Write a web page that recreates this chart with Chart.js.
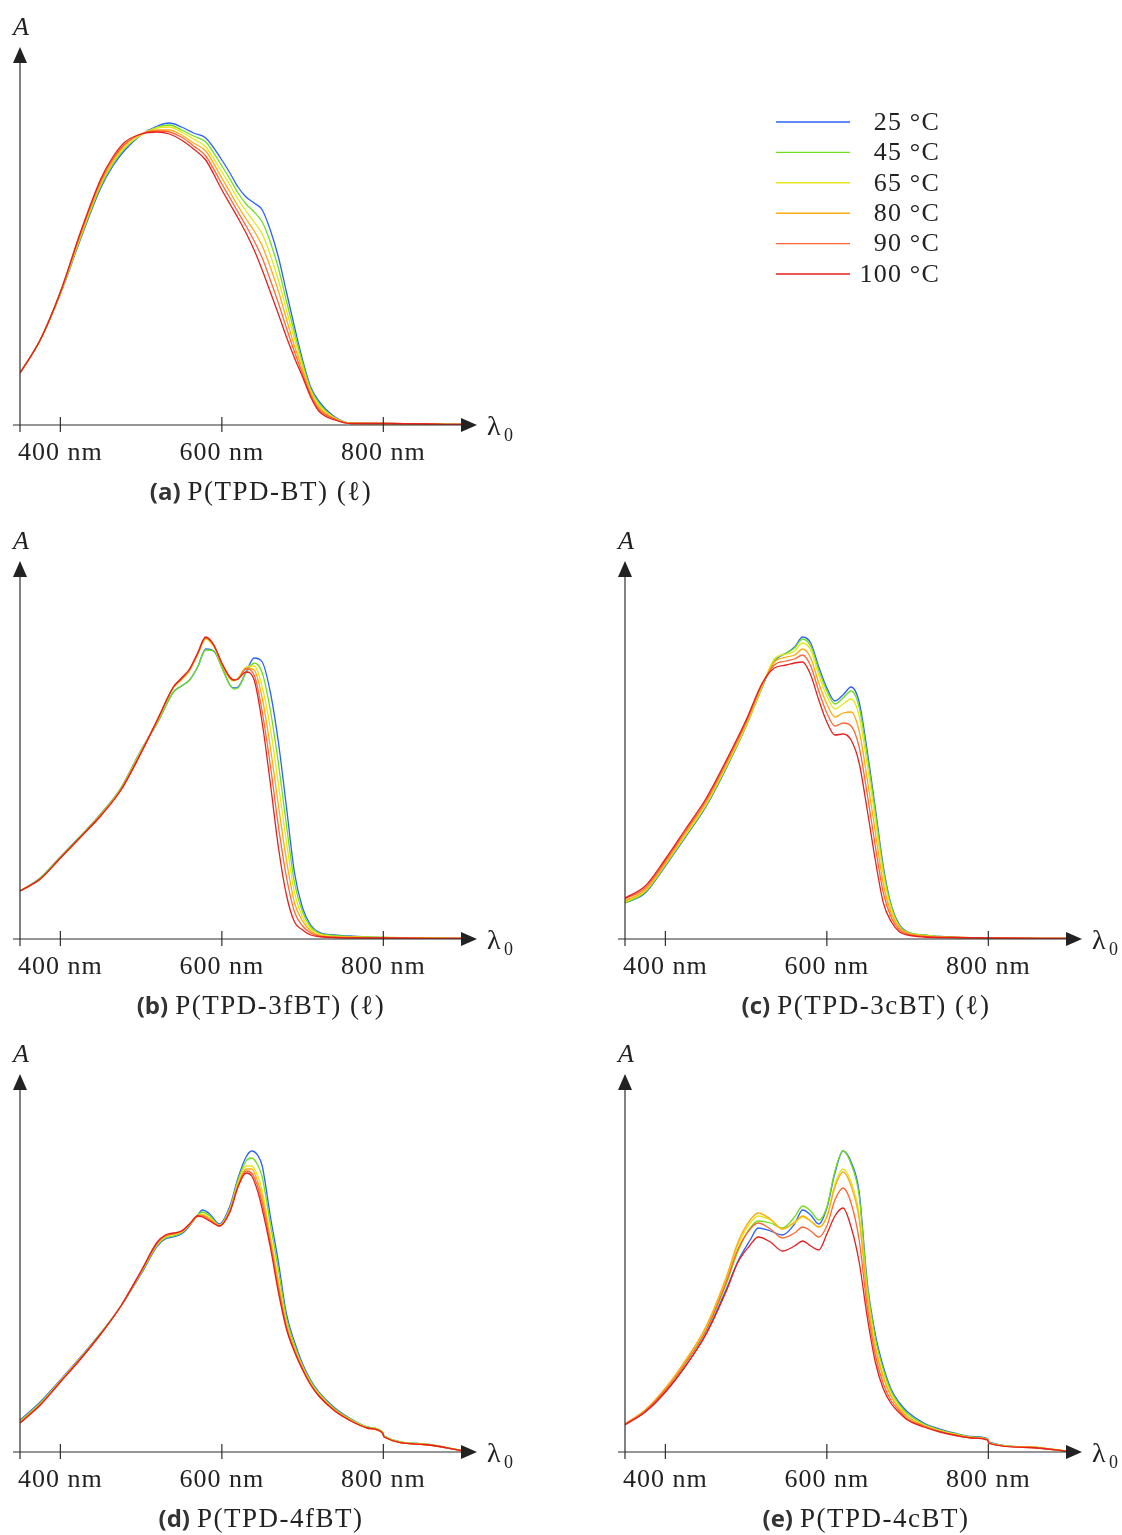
<!DOCTYPE html>
<html>
<head>
<meta charset="utf-8">
<title>Absorption spectra vs temperature</title>
<script src="https://cdn.jsdelivr.net/npm/chart.js@4.4.1/dist/chart.umd.min.js"></script>
<style>
  html, body { margin: 0; padding: 0; background: #fff; overflow: hidden; }
  body { width: 1122px; height: 1535px; position: relative; }
  canvas { position: absolute; }
</style>
</head>
<body>
<canvas id="pa" width="1122" height="510" style="left:0px;top:0px;width:1122px;height:510px"></canvas>
<canvas id="pb" width="520" height="510" style="left:0px;top:514px;width:520px;height:510px"></canvas>
<canvas id="pc" width="517" height="510" style="left:605px;top:514px;width:517px;height:510px"></canvas>
<canvas id="pd" width="520" height="508" style="left:0px;top:1027px;width:520px;height:508px"></canvas>
<canvas id="pe" width="517" height="508" style="left:605px;top:1027px;width:517px;height:508px"></canvas>
<script>
// series labels and colours (same for every panel)
const temps = ["25 °C", "45 °C", "65 °C", "80 °C", "90 °C", "100 °C"];
const colors = ["#2962ff", "#6fe01a", "#e6e619", "#ffaa11", "#ff6633", "#e51f1f"];

// x axis ticks (nm)
const xTicks = [400, 600, 800];

// absorbance in milli-units

// (a) P(TPD-BT) (l)
const nmA = [350,375,400,425,450,465,480,500,520,535,550,565,580,600,610,620,630,640,650,660,670,680,690,700,710,720,740,760,800,900];
const a25 = [52,85,131,186,237,259,275,290,299,302,298,292,287,265,252,238,228,222,215,195,168,133,98,65,38,24,8,2,1.5,0.5];
const a45 = [52,85,131,187,239,261,277,290,298,300,295,289,283,259,246,232,221,213,203,183,157,124,92,62,36,22,7,2,1.5,0.5];
const a65 = [52,85,132,189,241,263,278,290,297,298,293,286,278,253,240,226,214,203,191,170,145,115,86,58,34,20,7,2,1.5,0.5];
const a80 = [52,85,132,190,242,264,280,291,295,295,290,282,274,247,233,219,206,194,179,158,134,106,79,55,32,18,6,1.5,1.5,0.5];
const a90 = [52,85,133,192,244,266,281,291,294,293,288,279,269,241,227,213,199,184,167,145,122,97,73,51,30,16,6,1.5,1.5,0.5];
const a100 = [52,85,133,193,246,268,283,291,293,291,285,276,265,235,221,207,192,175,155,133,111,88,67,48,28,14,5,1.5,1.5,0.5];

// (b) P(TPD-3fBT) (l)
const nmB = [350,375,400,425,450,475,500,520,540,550,560,570,580,590,600,610,615,620,630,640,650,660,670,680,690,700,710,720,740,760,800,900];
const b25 = [48,61,82,103,125,151,189,216,247,253,259,272,290,288,272,254,251,252,267,281,277,247,197,132,66,31,14,7,4,3,1.5,0.5];
const b45 = [48,61,82,103,125,151,189,216,247,253,259,272,289,288,271,254,250,251,266,276,266,229,176,114,56,27,12,6,3.5,2.5,1.5,0.5];
const b65 = [48,60,81,102,124,150,188,218,251,259,268,284,300,292,274,260,258,261,272,273,252,211,155,97,46,22,10,5,2.5,2,1.5,0.5];
const b80 = [48,60,81,102,124,150,187,218,252,260,269,285,301,293,275,261,259,260,271,269,241,192,134,79,36,18,8,4,2,1.5,1,0.5];
const b90 = [48,60,81,102,124,149,187,219,252,260,269,285,301,294,275,261,259,260,270,264,227,174,113,62,27,13,6,3,1.5,1.5,1,0.5];
const b100 = [48,60,81,102,123,149,186,219,252,261,270,286,302,294,276,262,259,260,267,259,216,156,92,44,17,9,4,2.5,1.5,1,1,0.5];

// (c) P(TPD-3cBT) (l)
const nmC = [350,375,400,425,450,475,500,520,535,550,560,570,580,590,600,610,620,630,640,650,660,670,680,690,700,720,740,760,800,900];
const c25 = [36,46,73,102,132,170,213,252,278,286,292,302,296,272,251,238,244,252,237,188,131,72,33,14,7,4,2.5,1.5,1,0.5];
const c45 = [36,47,74,103,133,171,213,252,279,286,291,300,293,269,248,235,241,248,232,183,127,69,32,13,7,4,2.5,1.5,1,0.5];
const c65 = [37,48,75,104,134,172,214,253,280,285,288,296,289,264,243,230,235,240,223,174,119,64,29,12,6,3.5,2,1.5,1,0.5];
const c80 = [38,49,76,106,136,174,216,254,277,282,284,290,281,256,235,222,226,227,208,160,107,55,25,11,6,3,2,1.5,1,0.5];
const c90 = [40,51,78,108,138,176,217,255,274,278,280,284,273,248,226,213,216,213,192,145,93,46,21,9,5,2.5,1.5,1.5,1,0.5];
const c100 = [41,53,80,110,140,178,219,256,271,274,276,277,264,239,217,204,205,199,176,129,79,36,17,7,4,2,1.5,1.5,1,0.5];

// (d) P(TPD-4fBT)
const nmD = [350,375,400,425,450,475,500,520,530,540,550,560,570,576,585,597,610,620,630,637,645,650,660,670,680,690,700,710,720,740,760,780,799,801,850,900];
const d25 = [32,50,72,95,119,146,178,206,213,215,218,226,237,242,238,228,246,274,295,301,296,286,236,190,138,110,88,72,60,44,33,25,20,16,8,1];
const d45 = [31,49,71,94,119,146,179,207,214,216,219,227,237,240,236,227,244,272,291,294,286,275,228,182,134,107,86,71,59,43,32.5,25,20,16,8,1];
const d65 = [30,48,71,94,118,146,180,208,215,217,220,227,236,238,234,227,243,269,286,286,275,261,218,173,129,104,85,69,58,42,32,24.5,19.5,15.5,8,1];
const d80 = [30,48,71,94,118,146,180,209,216,218,220,227,236,237,233,227,242,267,283,283,269,255,213,168,127,103,84,68,57,42,31.5,24,19,15,7.5,1];
const d90 = [29,47,70,93,118,146,181,209,216,218,221,228,236,236,232,226,241,266,281,279,264,249,209,164,125,101,83,68,56.5,41,31,24,19,15,7.5,1];
const d100 = [29,47,70,93,118,146,181,210,217,219,221,228,236,235,231,226,240,265,279,276,259,243,205,160,123,100,82,67,56,41,31,24,19,15,7.5,1];

// (e) P(TPD-4cBT)
const nmE = [350,375,400,425,450,475,490,505,515,530,545,560,570,580,590,600,610,620,630,640,650,660,670,680,690,700,720,740,760,780,799,801,850,900];
const e25 = [28,40,60,86,118,162,191,212,224,221,217,228,242,237,228,244,279,301,290,260,170,118,85,62,49,40,29,23,18.5,15.5,13.5,10,5,0.5];
const e45 = [28,41,62,89,121,167,201,224,231,229,224,235,246,241,232,245,281,301,288,256,167,114,82,60,47,38,28,22,18,15,13,9.5,5,0.5];
const e65 = [28,42,63,91,124,172,207,229,236,232,223,229,235,231,225,236,268,283,270,238,160,108,77,57,45,36,27,21.5,17.5,14.5,12.5,9,5,0.5];
const e80 = [28,42,64,92,125,174,210,232,239,233,223,230,236,231,225,235,265,280,266,233,155,104,74,55,43,35,26.5,21,17,14.5,12.5,9,5,0.5];
const e90 = [28,41,62,89,121,169,203,223,229,223,214,219,225,221,215,226,252,264,249,212,145,97,68,51,41,33,26,20.5,16.5,14,12,8.5,4.5,0.5];
const e100 = [27,40,60,86,117,160,190,207,215,210,201,206,211,206,202,218,236,244,225,190,135,90,63,48,39,32,25,20,16.5,14,12,8.5,4.5,0.5];

const SERIF = '"Liberation Serif", "DejaVu Serif", serif';
const SANS = '"Open Sans", "DejaVu Sans", sans-serif';

// axes with arrows, tick labels, caption and (panel a only) legend
const decoPlugin = {
  id: "deco",
  afterDatasetsDraw(chart, args, opts) {
    const ctx = chart.ctx;
    const xs = chart.scales.x;
    const ys = chart.scales.y;
    const x0 = xs.getPixelForValue(xs.min);
    const y0 = ys.getPixelForValue(0);
    const top = ys.getPixelForValue(ys.max);
    const right = xs.getPixelForValue(xs.max);

    ctx.save();
    ctx.strokeStyle = "#2e2e2e";
    ctx.fillStyle = "#222";
    ctx.lineWidth = 1.2;

    // x axis + arrow
    ctx.beginPath();
    ctx.moveTo(x0 - 7, y0);
    ctx.lineTo(right - 14, y0);
    ctx.stroke();
    ctx.beginPath();
    ctx.moveTo(right, y0);
    ctx.lineTo(right - 16, y0 - 7);
    ctx.lineTo(right - 16, y0 + 7);
    ctx.closePath();
    ctx.fill();

    // y axis + arrow
    ctx.beginPath();
    ctx.moveTo(x0, y0 + 7);
    ctx.lineTo(x0, top + 14);
    ctx.stroke();
    ctx.beginPath();
    ctx.moveTo(x0, top);
    ctx.lineTo(x0 - 7, top + 16);
    ctx.lineTo(x0 + 7, top + 16);
    ctx.closePath();
    ctx.fill();

    // ticks and labels
    ctx.font = "26px " + SERIF;
    ctx.letterSpacing = "1px";
    ctx.textAlign = "center";
    ctx.textBaseline = "alphabetic";
    xTicks.forEach(v => {
      const px = xs.getPixelForValue(v);
      ctx.beginPath();
      ctx.moveTo(px, y0 - 8);
      ctx.lineTo(px, y0 + 7);
      ctx.stroke();
      ctx.fillText(v + " nm", px, y0 + 35);
    });

    // axis names
    ctx.letterSpacing = "0px";
    ctx.font = "italic 26px " + SERIF;
    ctx.fillText("A", x0 + 1, top - 12);
    ctx.textAlign = "left";
    ctx.font = "28px " + SERIF;
    ctx.fillText("λ", right + 10, y0 + 10);
    ctx.font = "18px " + SERIF;
    ctx.fillText("0", right + 27, y0 + 16);

    // caption
    const capY = y0 + 75;
    ctx.font = "bold 24px " + SANS;
    const w1 = ctx.measureText(opts.tag).width;
    ctx.font = "27px " + SERIF;
    ctx.letterSpacing = "1.5px";
    const w2 = ctx.measureText(opts.name).width;
    const gap = 7;
    const cx = opts.capX - (w1 + gap + w2) / 2;
    ctx.letterSpacing = "0px";
    ctx.font = "bold 24px " + SANS;
    ctx.fillStyle = "#333";
    ctx.fillText(opts.tag, cx, capY);
    ctx.font = "27px " + SERIF;
    ctx.letterSpacing = "1.5px";
    ctx.fillStyle = "#222";
    ctx.fillText(opts.name, cx + w1 + gap, capY);

    // legend
    if (opts.legend) {
      ctx.font = "26px " + SERIF;
      ctx.letterSpacing = "1.2px";
      ctx.textAlign = "right";
      ctx.textBaseline = "middle";
      chart.data.datasets.forEach((ds, i) => {
        const ly = 122 + i * 30.4;
        ctx.strokeStyle = ds.borderColor;
        ctx.lineWidth = 1.4;
        ctx.beginPath();
        ctx.moveTo(776, ly);
        ctx.lineTo(850, ly);
        ctx.stroke();
        ctx.fillStyle = "#222";
        ctx.fillText(ds.label, 940, ly + 1);
      });
    }
    ctx.restore();
  }
};

const panels = [
  { id: "pa", nm: nmA, series: [a25, a45, a65, a80, a90, a100], tag: "(a)", name: "P(TPD-BT) (ℓ)", legend: true },
  { id: "pb", nm: nmB, series: [b25, b45, b65, b80, b90, b100], tag: "(b)", name: "P(TPD-3fBT) (ℓ)" },
  { id: "pc", nm: nmC, series: [c25, c45, c65, c80, c90, c100], tag: "(c)", name: "P(TPD-3cBT) (ℓ)" },
  { id: "pd", nm: nmD, series: [d25, d45, d65, d80, d90, d100], tag: "(d)", name: "P(TPD-4fBT)" },
  { id: "pe", nm: nmE, series: [e25, e45, e65, e80, e90, e100], tag: "(e)", name: "P(TPD-4cBT)" },
];

panels.forEach(p => {
  const canvas = document.getElementById(p.id);
  const ctx = canvas.getContext("2d");
  new Chart(ctx, {
    type: "line",
    data: {
      datasets: p.series.map((vals, i) => ({
        label: temps[i],
        data: p.nm.map((x, j) => ({ x: x, y: vals[j] })),
        borderColor: colors[i],
        borderWidth: 1.3,
        pointRadius: 0,
        cubicInterpolationMode: "monotone",
        fill: false,
        order: 5 - i, // red drawn on top
      })),
    },
    options: {
      responsive: false,
      animation: false,
      devicePixelRatio: 1,
      layout: {
        padding: { left: 20, top: 47, right: canvas.width - 477, bottom: canvas.height - 425 },
      },
      scales: {
        x: { type: "linear", min: 350, max: 916, display: false },
        y: { min: 0, max: 378, display: false },
      },
      plugins: {
        legend: { display: false },
        tooltip: { enabled: false },
        deco: { tag: p.tag, name: p.name, capX: 261, legend: !!p.legend },
      },
    },
    plugins: [decoPlugin],
  });
});
</script>
</body>
</html>
